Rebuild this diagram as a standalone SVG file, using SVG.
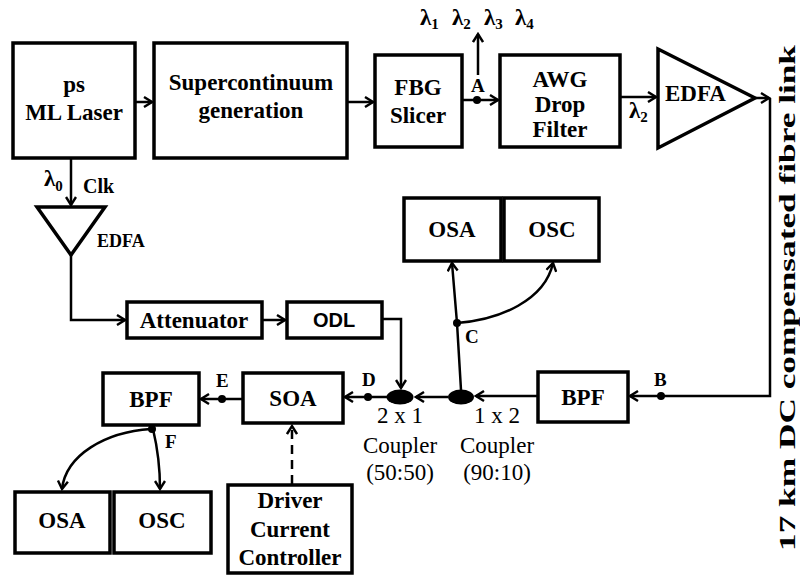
<svg xmlns="http://www.w3.org/2000/svg" width="800" height="575" viewBox="0 0 800 575">
<defs>
<marker id="arr" viewBox="0 0 12 12" refX="10" refY="6" markerWidth="12" markerHeight="12" markerUnits="userSpaceOnUse" orient="auto">
<path d="M2,1 L10,6 L2,11" fill="none" stroke="#000" stroke-width="2.4"/>
</marker>
<style>
.box{fill:#fff;stroke:#000;stroke-width:3.5}
.ln{fill:none;stroke:#000;stroke-width:2.5}
.t{font-family:"Liberation Serif","Times New Roman",serif;font-weight:bold;font-size:23px;text-anchor:middle;fill:#000}
.ts{font-family:"Liberation Serif","Times New Roman",serif;font-weight:bold;font-size:23px;text-anchor:start;fill:#000}
.s{font-family:"Liberation Serif","Times New Roman",serif;font-weight:bold;font-size:19px;fill:#000}
.r{font-family:"Liberation Serif","Times New Roman",serif;font-size:23px;text-anchor:middle;fill:#000}
.sans{font-family:"Liberation Sans",Arial,sans-serif;font-weight:bold;font-size:20px;text-anchor:middle;fill:#000}
.sub{font-size:15px}
</style>
</defs>
<rect width="800" height="575" fill="#fff"/>
<g id="connectors">
<path class="ln" d="M135,102 H152" marker-end="url(#arr)"/>
<path class="ln" d="M347,102 H373" marker-end="url(#arr)"/>
<path class="ln" d="M462,100 H498" marker-end="url(#arr)"/>
<path class="ln" d="M478,75 V34" marker-end="url(#arr)"/>
<path class="ln" d="M620,97 H656" marker-end="url(#arr)"/>
<path class="ln" d="M755,98 H769" marker-end="url(#arr)"/>
<path class="ln" d="M770,98 V396 H630" marker-end="url(#arr)"/>
<path class="ln" d="M538,396 H476" marker-end="url(#arr)"/>
<path class="ln" d="M448,397 H416" marker-end="url(#arr)"/>
<path class="ln" d="M387,397 H345" marker-end="url(#arr)"/>
<path class="ln" d="M243,399 H201" marker-end="url(#arr)"/>
<path class="ln" d="M71,158 V205" marker-end="url(#arr)"/>
<path class="ln" d="M71,255 V320 H125" marker-end="url(#arr)"/>
<path class="ln" d="M262,320 H285" marker-end="url(#arr)"/>
<path class="ln" d="M382,319 H401 V388" marker-end="url(#arr)"/>
<path class="ln" d="M461,390 L457,323 L452,263" marker-end="url(#arr)"/>
<path class="ln" d="M457,323 C500,320 545,300 553,263" marker-end="url(#arr)"/>
<path class="ln" d="M151,429 C105,432 66,455 62,489" marker-end="url(#arr)"/>
<path class="ln" d="M153,429 C158,450 160,470 160,489" marker-end="url(#arr)"/>
<path class="ln" d="M292,484 V426" stroke-dasharray="9,6" marker-end="url(#arr)"/>
<circle cx="477" cy="100" r="4"/>
<circle cx="661" cy="396" r="4"/>
<circle cx="457" cy="323" r="4"/>
<circle cx="368" cy="397" r="4"/>
<circle cx="222" cy="399" r="4"/>
<circle cx="152" cy="429" r="4"/>
<text class="s" x="471" y="92">A</text>
<text class="s" x="654" y="386">B</text>
<text class="s" x="465" y="343">C</text>
<text class="s" x="362" y="386">D</text>
<text class="s" x="216" y="387">E</text>
<text class="s" x="165" y="448">F</text>
<text class="ts" x="420" y="25">λ<tspan class="sub" dy="4">1</tspan></text>
<text class="ts" x="452" y="25">λ<tspan class="sub" dy="4">2</tspan></text>
<text class="ts" x="484" y="25">λ<tspan class="sub" dy="4">3</tspan></text>
<text class="ts" x="515" y="25">λ<tspan class="sub" dy="4">4</tspan></text>
<text class="ts" x="629" y="118">λ<tspan class="sub" dy="4">2</tspan></text>
<text class="ts" x="44" y="186">λ<tspan class="sub" dy="5">0</tspan></text>
<text class="s" x="83" y="193" style="font-size:20px">Clk</text>
</g>
<g id="laser"><rect class="box" x="13" y="43" width="122" height="115"/><text class="t" x="74" y="92">ps</text><text class="t" x="74" y="120">ML Laser</text></g>
<g id="supercontinuum"><rect class="box" x="154" y="43" width="193" height="115"/><text class="t" x="251" y="90">Supercontinuum</text><text class="t" x="251" y="118">generation</text></g>
<g id="fbg"><rect class="box" x="375" y="55" width="87" height="92"/><text class="t" x="418" y="95">FBG</text><text class="t" x="418" y="123">Slicer</text></g>
<g id="awg"><rect class="box" x="500" y="55" width="120" height="92"/><text class="t" x="560" y="87">AWG</text><text class="t" x="560" y="112">Drop</text><text class="t" x="560" y="137">Filter</text></g>
<g id="edfa1"><path class="box" d="M658,49 L755,98 L658,148 Z"/><text class="ts" x="665" y="101">EDFA</text></g>
<g id="edfa2"><path class="box" d="M37,207 L105,207 L71,255 Z"/><text class="s" x="97" y="247" style="font-size:18px">EDFA</text></g>
<g id="attenuator"><rect class="box" x="127" y="302" width="135" height="36"/><text class="t" x="194" y="328">Attenuator</text></g>
<g id="odl"><rect class="box" x="287" y="302" width="95" height="36"/><text class="sans" x="334" y="327">ODL</text></g>
<g id="osa1"><rect class="box" x="404" y="198" width="97" height="63"/><text class="t" x="452" y="237">OSA</text></g>
<g id="osc1"><rect class="box" x="504" y="198" width="95" height="63"/><text class="t" x="552" y="237">OSC</text></g>
<g id="bpf1"><rect class="box" x="538" y="372" width="90" height="50"/><text class="t" x="583" y="405">BPF</text></g>
<g id="coupler12"><ellipse cx="461" cy="397" rx="13" ry="7.5"/><text class="r" x="497" y="423">1 x 2</text><text class="r" x="497" y="453">Coupler</text><text class="r" x="497" y="480">(90:10)</text></g>
<g id="coupler21"><ellipse cx="400" cy="397" rx="13.5" ry="7.5"/><text class="r" x="400" y="423">2 x 1</text><text class="r" x="400" y="453">Coupler</text><text class="r" x="400" y="480">(50:50)</text></g>
<g id="soa"><rect class="box" x="243" y="373" width="100" height="50"/><text class="t" x="293" y="406">SOA</text></g>
<g id="bpf2"><rect class="box" x="103" y="373" width="96" height="52"/><text class="t" x="151" y="407">BPF</text></g>
<g id="osa2"><rect class="box" x="15" y="492" width="95" height="61"/><text class="t" x="62" y="528">OSA</text></g>
<g id="osc2"><rect class="box" x="114" y="492" width="97" height="61"/><text class="t" x="162" y="528">OSC</text></g>
<g id="driver"><rect class="box" x="228" y="485" width="124" height="88"/><text class="t" x="290" y="508">Driver</text><text class="t" x="290" y="537">Current</text><text class="t" x="290" y="565">Controller</text></g>
<g id="fibre-label"><text class="t" x="0" y="0" textLength="506" lengthAdjust="spacingAndGlyphs" transform="translate(795,298) rotate(-90)" style="font-size:24px">17 km DC compensated fibre link</text></g>
</svg>
